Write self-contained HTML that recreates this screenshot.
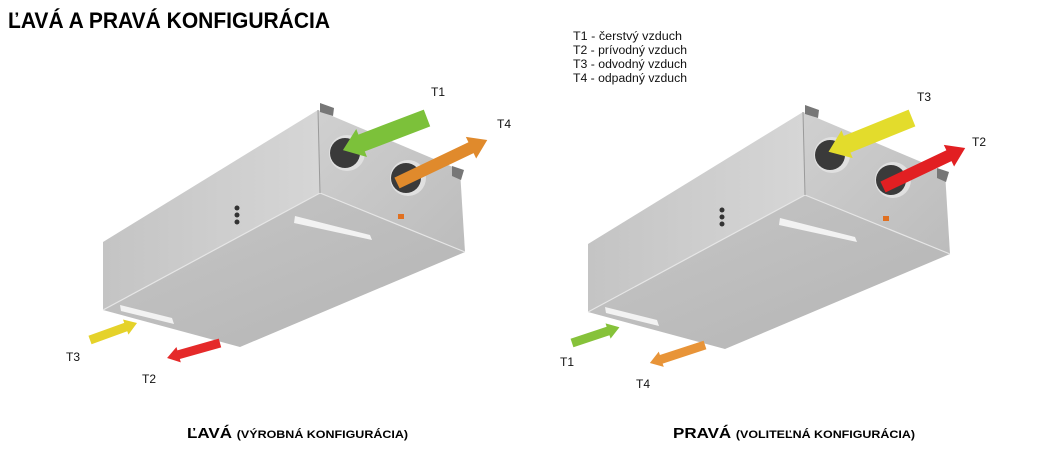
<!DOCTYPE html>
<html><head><meta charset="utf-8"><style>
html,body{margin:0;padding:0;background:#fff;}
svg{display:block;font-family:"Liberation Sans",sans-serif;}
</style></head><body>
<svg width="1049" height="451" viewBox="0 0 1049 451" xmlns="http://www.w3.org/2000/svg">
<defs>
<linearGradient id="side" x1="0" y1="0" x2="1" y2="0">
<stop offset="0" stop-color="#c4c4c4"/><stop offset="1" stop-color="#d6d6d6"/></linearGradient>
<linearGradient id="bot" x1="0" y1="0" x2="1" y2="1">
<stop offset="0" stop-color="#c6c6c6"/><stop offset="1" stop-color="#b4b4b4"/></linearGradient>
<linearGradient id="end" x1="0" y1="0" x2="1" y2="1">
<stop offset="0" stop-color="#d0d0d0"/><stop offset="1" stop-color="#bcbcbc"/></linearGradient>
<g id="box">
<polygon points="318,110 320,193 103,310 103,242" fill="url(#side)"/>
<polygon points="320,193 465,252 240,347 103,310" fill="url(#bot)"/>
<polygon points="318,110 460,170 465,252 320,193" fill="url(#end)"/>
<polyline points="103,310 320,193 465,252" fill="none" stroke="#e6e6e6" stroke-width="1.2"/>
<line x1="318" y1="110" x2="320" y2="193" stroke="#9a9a9a" stroke-width="1"/>
<polygon points="320,103 334,108 333,116 320,112" fill="#777"/>
<polygon points="452,166 464,170 461,180 452,176" fill="#777"/>
<circle cx="347" cy="153" r="18" fill="#e0e0e0"/><circle cx="345" cy="153" r="15" fill="#3a3a3a"/>
<circle cx="408" cy="178" r="18" fill="#e0e0e0"/><circle cx="406" cy="178" r="15" fill="#3a3a3a"/>
<polygon points="295,216 370,235 372,240 294,223" fill="#f2f2f2"/>
<polygon points="120,305 172,318 174,324 121,311" fill="#f2f2f2"/>
<circle cx="237" cy="208" r="2.5" fill="#333"/><circle cx="237" cy="215" r="2.5" fill="#333"/><circle cx="237" cy="222" r="2.5" fill="#333"/>
<rect x="398" y="214" width="6" height="5" fill="#e07020"/>
</g>
</defs>
<text x="8" y="28" font-size="22" font-weight="bold" textLength="322" lengthAdjust="spacingAndGlyphs">ĽAVÁ A PRAVÁ KONFIGURÁCIA</text>
<g font-size="11.5" fill="#111">
<text x="573" y="40" textLength="109" lengthAdjust="spacingAndGlyphs">T1 - čerstvý vzduch</text>
<text x="573" y="54" textLength="114" lengthAdjust="spacingAndGlyphs">T2 - prívodný vzduch</text>
<text x="573" y="68" textLength="114" lengthAdjust="spacingAndGlyphs">T3 - odvodný vzduch</text>
<text x="573" y="82" textLength="114" lengthAdjust="spacingAndGlyphs">T4 - odpadný vzduch</text>
</g>
<use href="#box"/>
<use href="#box" transform="translate(485,2)"/>
<g transform="translate(427,118) rotate(159.1)"><polygon points="0,-9 0,9 70,9 70,15 90,0 70,-15 70,-9" fill="#7cc13a"/></g>
<g transform="translate(397,183) rotate(-25.5)"><polygon points="0,-6 0,6 82,6 82,12 100,0 82,-12 82,-6" fill="#e08a2c"/></g>
<g transform="translate(90,340) rotate(-19.9)"><polygon points="0,-4.5 0,4.5 38,4.5 38,8 50,0 38,-8 38,-4.5" fill="#e5d22a"/></g>
<g transform="translate(220,343) rotate(164.2)"><polygon points="0,-4.5 0,4.5 43,4.5 43,8 55,0 43,-8 43,-4.5" fill="#e52a2a"/></g>
<g transform="translate(912,118) rotate(158)"><polygon points="0,-9 0,9 70,9 70,15 90,0 70,-15 70,-9" fill="#e3dc2c"/></g>
<g transform="translate(883,187) rotate(-25.4)"><polygon points="0,-6 0,6 73,6 73,12 91,0 73,-12 73,-6" fill="#e21f22"/></g>
<g transform="translate(572,343) rotate(-18.4)"><polygon points="0,-4.5 0,4.5 38,4.5 38,8 50,0 38,-8 38,-4.5" fill="#86c23a"/></g>
<g transform="translate(705,345) rotate(161.9)"><polygon points="0,-4.5 0,4.5 46,4.5 46,8 58,0 46,-8 46,-4.5" fill="#e89438"/></g>
<g font-size="12" fill="#111">
<text x="431" y="96">T1</text><text x="497" y="128">T4</text>
<text x="66" y="361">T3</text><text x="142" y="383">T2</text>
<text x="917" y="101">T3</text><text x="972" y="146">T2</text>
<text x="560" y="366">T1</text><text x="636" y="388">T4</text>
</g>
<text x="187" y="438" font-weight="bold" font-size="15" textLength="221" lengthAdjust="spacingAndGlyphs">ĽAVÁ <tspan font-size="11">(VÝROBNÁ KONFIGURÁCIA)</tspan></text>
<text x="673" y="438" font-weight="bold" font-size="15" textLength="242" lengthAdjust="spacingAndGlyphs">PRAVÁ <tspan font-size="11">(VOLITEĽNÁ KONFIGURÁCIA)</tspan></text>
</svg>
</body></html>
